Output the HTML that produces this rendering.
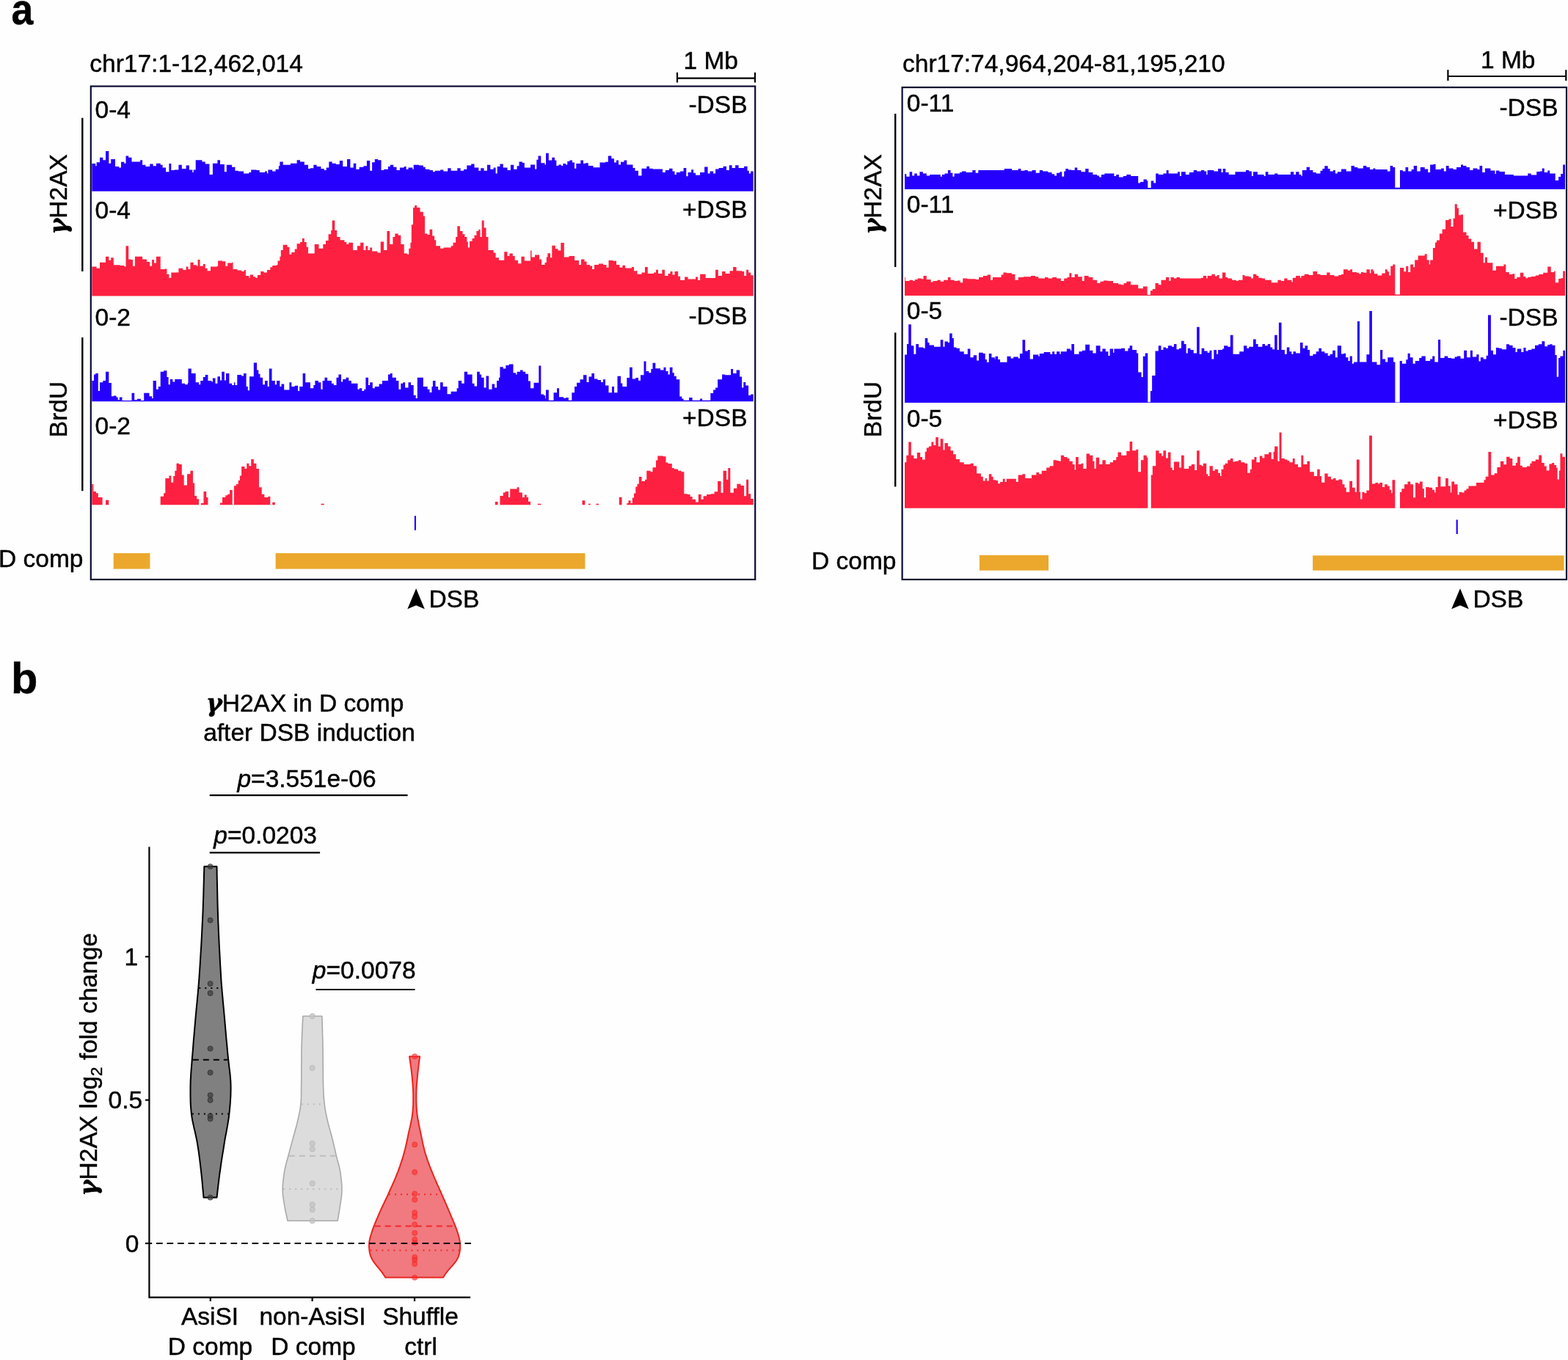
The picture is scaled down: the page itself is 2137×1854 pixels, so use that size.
<!DOCTYPE html><html><head><meta charset="utf-8"><style>html,body{margin:0;padding:0;background:#FEFEFE;}svg{display:block;}text{font-family:"Liberation Sans",Arial,Helvetica,sans-serif;fill:#000;stroke:#000;stroke-width:0.45px;}</style></head><body>
<svg width="2137" height="1854" viewBox="0 0 2137 1854">
<rect width="2137" height="1854" fill="#FEFEFE"/>
<text transform="translate(15.5 33) scale(0.9 1)" font-size="59.5" font-weight="bold">a</text>
<text x="15.0" y="945.0" font-size="59.5" text-anchor="start" font-weight="bold">b</text>
<path d="M125.3 260.8L125.3 223.1L128.7 223.1L128.7 223.1L130.2 223.1L130.2 226.3L131.6 226.3L131.6 221.2L136.0 221.2L136.0 214.7L140.3 214.7L140.3 218.3L144.0 218.3L144.0 206.0L148.3 206.0L148.3 222.7L151.2 222.7L151.2 216.9L155.6 216.9L155.6 216.9L157.0 216.9L157.0 227.0L162.1 227.0L162.1 228.5L165.0 228.5L165.0 220.8L169.4 220.8L169.4 222.7L171.5 222.7L171.5 212.5L175.2 212.5L175.2 214.7L179.5 214.7L179.5 220.5L191.1 220.5L191.1 218.3L194.1 218.3L194.1 224.8L198.4 224.8L198.4 227.0L204.2 227.0L204.2 223.4L208.6 223.4L208.6 226.3L212.9 226.3L212.9 222.7L218.7 222.7L218.7 224.8L221.6 224.8L221.6 228.5L226.0 228.5L226.0 234.3L230.4 234.3L230.4 223.1L233.3 223.1L233.3 232.1L237.6 232.1L237.6 231.4L243.4 231.4L243.4 224.8L247.8 224.8L247.8 229.9L253.6 229.9L253.6 225.6L257.9 225.6L257.9 231.4L262.3 231.4L262.3 235.0L263.7 235.0L263.7 231.4L266.7 231.4L266.7 218.3L275.4 218.3L275.4 220.5L279.7 220.5L279.7 223.4L285.5 223.4L285.5 237.9L289.9 237.9L289.9 222.7L296.4 222.7L296.4 218.3L300.0 218.3L300.0 224.1L305.9 224.1L305.9 234.3L308.8 234.3L308.8 224.8L316.0 224.8L316.0 227.8L320.4 227.8L320.4 232.8L324.7 232.8L324.7 233.6L332.0 233.6L332.0 236.5L339.3 236.5L339.3 235.0L342.2 235.0L342.2 231.4L349.4 231.4L349.4 232.1L353.8 232.1L353.8 235.0L361.0 235.0L361.0 233.6L363.9 233.6L363.9 236.5L365.4 236.5L365.4 231.4L371.2 231.4L371.2 233.6L375.6 233.6L375.6 230.7L379.9 230.7L379.9 226.3L381.4 226.3L381.4 220.5L385.7 220.5L385.7 224.8L395.9 224.8L395.9 222.7L404.6 222.7L404.6 218.3L409.0 218.3L409.0 220.5L414.8 220.5L414.8 224.8L420.0 224.8L420.0 229.9L422.9 229.9L422.9 229.2L427.3 229.2L427.3 224.8L431.6 224.8L431.6 227.0L437.4 227.0L437.4 229.9L441.8 229.9L441.8 232.1L444.7 232.1L444.7 228.5L448.3 228.5L448.3 220.5L452.7 220.5L452.7 222.7L457.8 222.7L457.8 224.1L462.8 224.1L462.8 219.0L467.2 219.0L467.2 227.0L473.0 227.0L473.0 216.9L477.4 216.9L477.4 228.5L481.7 228.5L481.7 222.7L485.3 222.7L485.3 230.7L489.7 230.7L489.7 227.8L495.5 227.8L495.5 226.3L499.9 226.3L499.9 219.0L504.2 219.0L504.2 232.8L507.1 232.8L507.1 221.2L510.8 221.2L510.8 216.9L515.1 216.9L515.1 218.3L519.5 218.3L519.5 232.1L523.1 232.1L523.1 230.7L528.9 230.7L528.9 227.0L531.8 227.0L531.8 224.8L536.2 224.8L536.2 227.8L540.5 227.8L540.5 232.1L544.9 232.1L544.9 228.5L550.7 228.5L550.7 227.0L553.6 227.0L553.6 230.7L556.5 230.7L556.5 228.5L562.3 228.5L562.3 230.7L563.7 230.7L563.7 224.8L571.0 224.8L571.0 225.6L576.8 225.6L576.8 227.8L579.7 227.8L579.7 230.7L585.5 230.7L585.5 232.1L589.9 232.1L589.9 234.3L592.8 234.3L592.8 232.8L600.0 232.8L600.0 231.4L604.4 231.4L604.4 233.6L610.2 233.6L610.2 229.2L614.6 229.2L614.6 232.8L623.3 232.8L623.3 229.2L627.6 229.2L627.6 232.8L632.0 232.8L632.0 230.7L636.3 230.7L636.3 225.6L642.2 225.6L642.2 223.4L646.5 223.4L646.5 228.5L652.3 228.5L652.3 232.8L655.2 232.8L655.2 229.2L659.6 229.2L659.6 232.8L663.9 232.8L663.9 224.8L668.3 224.8L668.3 230.7L672.6 230.7L672.6 228.5L675.6 228.5L675.6 236.5L677.7 236.5L677.7 227.0L681.4 227.0L681.4 223.4L685.7 223.4L685.7 228.5L691.5 228.5L691.5 232.1L695.9 232.1L695.9 224.8L700.2 224.8L700.2 230.7L704.6 230.7L704.6 226.3L707.5 226.3L707.5 220.5L711.9 220.5L711.9 221.9L714.8 221.9L714.8 228.5L723.0 228.5L723.0 224.5L729.0 224.5L729.0 230.5L731.3 230.5L731.3 217.8L733.5 217.8L733.5 212.5L737.3 212.5L737.3 222.3L742.5 222.3L742.5 224.5L744.0 224.5L744.0 208.8L747.8 208.8L747.8 218.5L752.3 218.5L752.3 214.8L756.0 214.8L756.0 218.5L758.3 218.5L758.3 226.0L761.3 226.0L761.3 224.5L765.0 224.5L765.0 226.0L767.3 226.0L767.3 223.0L771.0 223.0L771.0 224.5L773.3 224.5L773.3 220.0L776.3 220.0L776.3 218.5L780.0 218.5L780.0 221.5L783.0 221.5L783.0 229.8L785.3 229.8L785.3 223.0L791.3 223.0L791.3 218.5L795.0 218.5L795.0 223.0L798.0 223.0L798.0 222.3L801.8 222.3L801.8 226.0L808.5 226.0L808.5 228.3L816.0 228.3L816.0 228.3L817.5 228.3L817.5 221.5L825.0 221.5L825.0 220.8L828.8 220.8L828.8 212.5L833.3 212.5L833.3 216.3L837.0 216.3L837.0 221.5L840.0 221.5L840.0 218.5L843.0 218.5L843.0 224.5L846.0 224.5L846.0 220.8L850.5 220.8L850.5 218.5L854.3 218.5L854.3 224.5L862.5 224.5L862.5 229.0L865.5 229.0L865.5 232.8L870.0 232.8L870.0 239.5L874.5 239.5L874.5 229.8L881.3 229.8L881.3 226.8L885.0 226.8L885.0 229.8L889.5 229.8L889.5 230.5L895.5 230.5L895.5 230.5L903.0 230.5L903.0 235.0L906.8 235.0L906.8 232.0L912.0 232.0L912.0 229.8L916.5 229.8L916.5 233.5L919.5 233.5L919.5 238.0L921.8 238.0L921.8 235.0L927.1 235.0L927.1 233.5L931.6 233.5L931.6 229.0L935.3 229.0L935.3 240.3L937.6 240.3L937.6 235.0L942.1 235.0L942.1 231.3L945.1 231.3L945.1 235.8L948.1 235.8L948.1 238.8L954.1 238.8L954.1 235.0L960.1 235.0L960.1 227.5L964.6 227.5L964.6 236.5L967.6 236.5L967.6 233.5L972.1 233.5L972.1 236.5L975.1 236.5L975.1 230.5L979.6 230.5L979.6 229.0L985.6 229.0L985.6 226.8L990.1 226.8L990.1 232.0L993.8 232.0L993.8 225.3L997.6 225.3L997.6 229.0L1002.1 229.0L1002.1 225.3L1006.6 225.3L1006.6 229.0L1014.1 229.0L1014.1 226.8L1018.6 226.8L1018.6 232.8L1020.8 232.8L1020.8 236.5L1023.1 236.5L1023.1 233.5L1026.7 233.5L1026.7 260.8Z" fill="#2600FF"/><path d="M125.3 403.6L125.3 363.5L131.6 363.5L131.6 365.7L136.0 365.7L136.0 357.7L144.0 357.7L144.0 349.7L148.3 349.7L148.3 354.8L151.2 354.8L151.2 351.2L154.8 351.2L154.8 361.3L163.6 361.3L163.6 362.1L169.4 362.1L169.4 363.5L171.5 363.5L171.5 335.2L175.2 335.2L175.2 353.4L178.1 353.4L178.1 354.1L181.0 354.1L181.0 362.8L183.9 362.8L183.9 349.7L188.2 349.7L188.2 349.7L194.1 349.7L194.1 353.4L199.9 353.4L199.9 357.0L204.2 357.0L204.2 362.8L207.1 362.8L207.1 354.1L210.0 354.1L210.0 358.4L212.9 358.4L212.9 349.7L216.6 349.7L216.6 349.7L218.7 349.7L218.7 367.1L224.5 367.1L224.5 366.4L227.4 366.4L227.4 373.7L230.4 373.7L230.4 378.8L233.3 378.8L233.3 371.5L239.1 371.5L239.1 371.5L243.4 371.5L243.4 365.7L249.2 365.7L249.2 367.9L253.6 367.9L253.6 363.5L256.5 363.5L256.5 367.1L259.4 367.1L259.4 357.7L263.7 357.7L263.7 361.3L268.1 361.3L268.1 362.8L269.6 362.8L269.6 354.1L272.5 354.1L272.5 362.8L276.8 362.8L276.8 359.9L279.7 359.9L279.7 365.7L282.6 365.7L282.6 369.3L287.0 369.3L287.0 363.5L295.7 363.5L295.7 362.8L297.1 362.8L297.1 355.5L303.0 355.5L303.0 356.3L307.3 356.3L307.3 362.8L310.2 362.8L310.2 358.4L316.0 358.4L316.0 357.7L317.5 357.7L317.5 367.1L323.3 367.1L323.3 368.6L329.1 368.6L329.1 370.0L332.7 370.0L332.7 367.9L334.9 367.9L334.9 375.9L339.3 375.9L339.3 378.8L340.7 378.8L340.7 374.4L345.1 374.4L345.1 377.3L348.0 377.3L348.0 378.8L350.9 378.8L350.9 375.1L355.2 375.1L355.2 370.0L359.6 370.0L359.6 371.5L363.9 371.5L363.9 367.9L368.3 367.9L368.3 364.2L371.2 364.2L371.2 362.1L377.0 362.1L377.0 361.3L378.5 361.3L378.5 355.5L381.4 355.5L381.4 349.7L382.8 349.7L382.8 341.0L385.7 341.0L385.7 333.7L391.5 333.7L391.5 336.7L394.4 336.7L394.4 346.8L397.3 346.8L397.3 343.9L401.7 343.9L401.7 339.6L404.6 339.6L404.6 332.3L409.0 332.3L409.0 330.1L411.9 330.1L411.9 325.0L414.8 325.0L414.8 330.1L417.7 330.1L417.7 336.7L420.0 336.7L420.0 345.4L428.7 345.4L428.7 333.0L434.5 333.0L434.5 338.8L440.3 338.8L440.3 333.0L444.0 333.0L444.0 327.9L447.6 327.9L447.6 319.2L451.2 319.2L451.2 314.1L452.7 314.1L452.7 300.4L456.3 300.4L456.3 314.1L459.2 314.1L459.2 322.9L463.6 322.9L463.6 327.2L469.4 327.2L469.4 330.1L472.3 330.1L472.3 333.0L475.2 333.0L475.2 330.8L481.0 330.8L481.0 341.0L486.8 341.0L486.8 335.2L491.1 335.2L491.1 330.8L495.5 330.8L495.5 341.0L498.4 341.0L498.4 335.2L501.3 335.2L501.3 341.0L504.2 341.0L504.2 337.4L507.1 337.4L507.1 342.5L514.4 342.5L514.4 344.6L518.7 344.6L518.7 329.4L523.1 329.4L523.1 341.0L527.4 341.0L527.4 314.9L531.1 314.9L531.1 333.0L535.4 333.0L535.4 322.9L538.3 322.9L538.3 318.5L542.7 318.5L542.7 320.7L546.3 320.7L546.3 333.0L550.7 333.0L550.7 345.4L555.0 345.4L555.0 346.8L557.2 346.8L557.2 338.8L559.4 338.8L559.4 330.8L560.8 330.8L560.8 306.2L563.0 306.2L563.0 282.9L565.2 282.9L565.2 280.0L568.1 280.0L568.1 282.9L572.5 282.9L572.5 288.7L576.8 288.7L576.8 294.5L579.0 294.5L579.0 318.5L582.6 318.5L582.6 320.0L585.5 320.0L585.5 312.7L589.2 312.7L589.2 321.4L592.1 321.4L592.1 327.2L594.2 327.2L594.2 335.2L600.0 335.2L600.0 338.8L604.4 338.8L604.4 337.4L614.6 337.4L614.6 335.2L617.5 335.2L617.5 330.8L621.1 330.8L621.1 322.9L623.3 322.9L623.3 308.3L626.9 308.3L626.9 314.9L630.5 314.9L630.5 319.2L633.4 319.2L633.4 322.9L636.3 322.9L636.3 329.4L637.8 329.4L637.8 337.4L640.0 337.4L640.0 328.7L643.6 328.7L643.6 325.0L646.5 325.0L646.5 320.7L649.4 320.7L649.4 314.9L652.3 314.9L652.3 312.7L654.5 312.7L654.5 322.9L656.7 322.9L656.7 300.4L659.6 300.4L659.6 310.5L662.5 310.5L662.5 322.9L665.4 322.9L665.4 341.0L672.6 341.0L672.6 344.6L675.6 344.6L675.6 351.2L679.9 351.2L679.9 354.8L687.2 354.8L687.2 343.2L691.5 343.2L691.5 349.0L694.4 349.0L694.4 345.4L698.8 345.4L698.8 349.0L701.7 349.0L701.7 354.8L706.0 354.8L706.0 359.2L710.4 359.2L710.4 349.7L714.8 349.7L714.8 355.5L723.0 355.5L723.0 341.5L724.5 341.5L724.5 350.5L729.0 350.5L729.0 347.5L735.0 347.5L735.0 353.5L738.0 353.5L738.0 361.0L742.5 361.0L742.5 358.0L744.8 358.0L744.8 350.5L746.3 350.5L746.3 345.3L750.0 345.3L750.0 351.3L752.3 351.3L752.3 334.8L756.8 334.8L756.8 339.3L760.5 339.3L760.5 341.5L764.3 341.5L764.3 331.0L768.8 331.0L768.8 350.5L775.5 350.5L775.5 349.0L783.0 349.0L783.0 355.0L789.0 355.0L789.0 361.0L792.0 361.0L792.0 353.5L796.5 353.5L796.5 356.5L799.5 356.5L799.5 361.0L804.0 361.0L804.0 362.5L807.0 362.5L807.0 367.0L810.0 367.0L810.0 361.0L816.0 361.0L816.0 359.5L822.0 359.5L822.0 361.0L826.5 361.0L826.5 364.8L829.5 364.8L829.5 355.0L835.5 355.0L835.5 355.8L840.0 355.8L840.0 361.0L844.5 361.0L844.5 364.8L848.3 364.8L848.3 361.8L852.0 361.8L852.0 365.5L861.0 365.5L861.0 364.0L864.0 364.0L864.0 369.3L868.5 369.3L868.5 373.8L874.5 373.8L874.5 371.5L879.0 371.5L879.0 364.0L882.8 364.0L882.8 373.0L891.0 373.0L891.0 371.5L894.0 371.5L894.0 367.8L897.0 367.8L897.0 373.0L902.3 373.0L902.3 367.8L906.0 367.8L906.0 376.0L910.5 376.0L910.5 373.0L913.5 373.0L913.5 370.0L916.5 370.0L916.5 374.5L919.5 374.5L919.5 370.0L924.1 370.0L924.1 376.8L927.1 376.8L927.1 382.0L933.1 382.0L933.1 377.5L937.6 377.5L937.6 380.5L948.1 380.5L948.1 377.5L951.1 377.5L951.1 382.0L954.1 382.0L954.1 373.8L961.6 373.8L961.6 379.0L975.1 379.0L975.1 367.8L978.8 367.8L978.8 376.0L984.1 376.0L984.1 370.0L988.6 370.0L988.6 373.0L994.6 373.0L994.6 369.3L999.1 369.3L999.1 364.0L1003.6 364.0L1003.6 369.3L1011.1 369.3L1011.1 370.0L1014.1 370.0L1014.1 376.0L1017.1 376.0L1017.1 367.8L1020.1 367.8L1020.1 371.5L1023.1 371.5L1023.1 375.3L1026.7 375.3L1026.7 403.6Z" fill="#FE2040"/><path d="M125.3 547.3L125.3 519.1L128.0 519.1L128.0 510.4L130.2 510.4L130.2 509.0L133.8 509.0L133.8 532.9L136.0 532.9L136.0 521.3L140.3 521.3L140.3 519.1L144.0 519.1L144.0 506.8L148.3 506.8L148.3 522.0L151.9 522.0L151.9 540.2L154.8 540.2L154.8 539.5L158.5 539.5L158.5 541.6L160.7 541.6L160.7 545.3L162.8 545.3L162.8 541.6L166.5 541.6L166.5 546.0L179.5 546.0L179.5 535.8L183.2 535.8L183.2 545.3L186.8 545.3L186.8 543.8L191.9 543.8L191.9 546.0L196.2 546.0L196.2 535.8L203.5 535.8L203.5 540.2L207.1 540.2L207.1 543.1L208.6 543.1L208.6 519.1L212.9 519.1L212.9 530.8L215.8 530.8L215.8 527.1L218.7 527.1L218.7 506.8L223.1 506.8L223.1 505.3L227.4 505.3L227.4 514.1L229.6 514.1L229.6 524.2L231.8 524.2L231.8 517.0L235.4 517.0L235.4 520.6L238.3 520.6L238.3 517.0L247.8 517.0L247.8 522.8L252.1 522.8L252.1 524.2L255.8 524.2L255.8 522.0L256.5 522.0L256.5 502.4L260.8 502.4L260.8 509.0L266.7 509.0L266.7 521.3L271.0 521.3L271.0 524.2L273.2 524.2L273.2 519.1L276.8 519.1L276.8 514.1L279.7 514.1L279.7 511.1L283.4 511.1L283.4 519.1L288.4 519.1L288.4 520.6L289.9 520.6L289.9 515.5L293.5 515.5L293.5 522.8L296.4 522.8L296.4 513.3L300.0 513.3L300.0 518.4L302.2 518.4L302.2 506.8L305.9 506.8L305.9 518.4L308.0 518.4L308.0 509.0L312.4 509.0L312.4 522.8L316.0 522.8L316.0 524.9L318.9 524.9L318.9 521.3L320.4 521.3L320.4 524.9L323.3 524.9L323.3 511.1L329.1 511.1L329.1 512.6L332.0 512.6L332.0 509.0L335.6 509.0L335.6 527.1L337.8 527.1L337.8 532.2L340.0 532.2L340.0 513.3L344.3 513.3L344.3 513.3L345.8 513.3L345.8 494.5L350.1 494.5L350.1 504.6L352.3 504.6L352.3 509.7L354.5 509.7L354.5 514.8L358.1 514.8L358.1 524.2L361.0 524.2L361.0 519.1L364.7 519.1L364.7 527.1L366.8 527.1L366.8 502.4L370.5 502.4L370.5 519.1L374.8 519.1L374.8 524.2L377.0 524.2L377.0 519.1L381.4 519.1L381.4 527.1L383.5 527.1L383.5 523.5L387.2 523.5L387.2 531.5L394.4 531.5L394.4 521.3L397.3 521.3L397.3 527.1L401.7 527.1L401.7 525.7L406.0 525.7L406.0 532.9L408.2 532.9L408.2 527.1L412.6 527.1L412.6 509.0L416.2 509.0L416.2 521.3L420.0 521.3L420.0 521.3L422.9 521.3L422.9 529.3L427.3 529.3L427.3 524.9L429.4 524.9L429.4 519.1L433.8 519.1L433.8 521.3L437.4 521.3L437.4 530.8L439.6 530.8L439.6 519.1L442.5 519.1L442.5 514.8L446.1 514.8L446.1 519.1L451.9 519.1L451.9 522.8L454.8 522.8L454.8 524.9L458.5 524.9L458.5 514.8L461.4 514.8L461.4 510.4L465.0 510.4L465.0 520.6L467.2 520.6L467.2 517.0L471.5 517.0L471.5 514.8L475.2 514.8L475.2 519.1L478.8 519.1L478.8 522.8L487.5 522.8L487.5 530.8L489.7 530.8L489.7 529.3L493.3 529.3L493.3 532.9L496.2 532.9L496.2 530.8L498.4 530.8L498.4 514.8L502.0 514.8L502.0 524.9L504.2 524.9L504.2 521.3L507.8 521.3L507.8 529.3L510.8 529.3L510.8 527.1L516.6 527.1L516.6 523.5L520.9 523.5L520.9 519.1L528.9 519.1L528.9 510.4L531.8 510.4L531.8 509.0L534.7 509.0L534.7 514.8L539.8 514.8L539.8 519.1L543.4 519.1L543.4 530.8L546.3 530.8L546.3 522.8L549.2 522.8L549.2 521.3L552.1 521.3L552.1 528.6L556.5 528.6L556.5 521.3L560.1 521.3L560.1 524.9L563.7 524.9L563.7 538.7L566.7 538.7L566.7 543.1L568.8 543.1L568.8 514.8L576.8 514.8L576.8 527.1L582.6 527.1L582.6 530.8L585.5 530.8L585.5 535.1L588.4 535.1L588.4 527.1L589.9 527.1L589.9 519.1L593.5 519.1L593.5 527.1L597.1 527.1L597.1 531.5L600.0 531.5L600.0 521.3L603.7 521.3L603.7 527.1L609.5 527.1L609.5 537.3L614.6 537.3L614.6 533.7L622.6 533.7L622.6 529.3L624.7 529.3L624.7 519.1L629.1 519.1L629.1 522.8L632.7 522.8L632.7 506.8L637.1 506.8L637.1 510.4L643.6 510.4L643.6 522.8L646.5 522.8L646.5 526.4L650.1 526.4L650.1 506.8L653.8 506.8L653.8 510.4L656.0 510.4L656.0 514.8L659.6 514.8L659.6 528.6L662.5 528.6L662.5 512.6L666.1 512.6L666.1 530.8L670.5 530.8L670.5 523.5L674.1 523.5L674.1 528.6L677.0 528.6L677.0 519.1L679.9 519.1L679.9 514.8L681.4 514.8L681.4 500.3L685.7 500.3L685.7 502.4L689.3 502.4L689.3 498.1L693.7 498.1L693.7 496.6L699.5 496.6L699.5 508.2L703.1 508.2L703.1 510.4L704.6 510.4L704.6 506.8L709.0 506.8L709.0 504.6L712.6 504.6L712.6 506.8L716.2 506.8L716.2 509.7L720.0 509.7L720.0 519.5L723.0 519.5L723.0 529.3L727.5 529.3L727.5 521.8L734.3 521.8L734.3 498.5L737.3 498.5L737.3 537.5L741.0 537.5L741.0 539.0L743.3 539.0L743.3 543.5L744.0 543.5L744.0 531.5L747.8 531.5L747.8 545.8L754.5 545.8L754.5 535.3L759.0 535.3L759.0 529.3L762.0 529.3L762.0 541.3L768.0 541.3L768.0 542.8L771.0 542.8L771.0 542.0L774.8 542.0L774.8 545.8L779.3 545.8L779.3 535.3L783.0 535.3L783.0 527.0L786.0 527.0L786.0 521.8L790.5 521.8L790.5 517.3L795.0 517.3L795.0 511.3L799.5 511.3L799.5 521.0L802.5 521.0L802.5 513.5L806.3 513.5L806.3 509.0L810.0 509.0L810.0 516.5L814.5 516.5L814.5 518.0L819.0 518.0L819.0 521.0L822.0 521.0L822.0 517.3L825.0 517.3L825.0 525.5L829.5 525.5L829.5 535.3L834.0 535.3L834.0 527.0L837.0 527.0L837.0 535.3L841.5 535.3L841.5 512.8L846.0 512.8L846.0 522.5L848.3 522.5L848.3 527.0L854.3 527.0L854.3 515.0L858.0 515.0L858.0 500.8L861.8 500.8L861.8 516.5L866.3 516.5L866.3 515.0L870.0 515.0L870.0 518.8L873.0 518.8L873.0 511.3L877.5 511.3L877.5 492.5L880.5 492.5L880.5 506.0L884.3 506.0L884.3 508.3L887.3 508.3L887.3 503.0L889.5 503.0L889.5 494.8L893.3 494.8L893.3 502.3L900.0 502.3L900.0 504.5L904.5 504.5L904.5 500.8L907.5 500.8L907.5 506.0L910.5 506.0L910.5 510.5L912.8 510.5L912.8 500.8L916.5 500.8L916.5 508.3L918.8 508.3L918.8 512.8L921.8 512.8L921.8 517.3L926.3 517.3L926.3 540.5L929.3 540.5L929.3 543.5L931.6 543.5L931.6 545.8L939.1 545.8L939.1 542.0L943.6 542.0L943.6 545.8L954.1 545.8L954.1 543.5L957.1 543.5L957.1 545.8L968.3 545.8L968.3 536.0L972.1 536.0L972.1 531.5L975.1 531.5L975.1 528.5L978.1 528.5L978.1 517.3L984.1 517.3L984.1 510.5L987.8 510.5L987.8 511.3L996.1 511.3L996.1 503.0L999.1 503.0L999.1 509.0L1003.6 509.0L1003.6 504.5L1008.1 504.5L1008.1 513.5L1011.1 513.5L1011.1 528.5L1013.3 528.5L1013.3 521.0L1016.3 521.0L1016.3 525.5L1020.1 525.5L1020.1 539.0L1023.1 539.0L1023.1 537.5L1026.7 537.5L1026.7 547.3Z" fill="#2600FF"/><path d="M125.3 688.3L125.3 660.0L127.3 660.0L127.3 670.1L130.9 670.1L130.9 672.3L133.8 672.3L133.8 678.1L139.6 678.1L139.6 688.3ZM144.0 688.3L144.0 681.8L148.3 681.8L148.3 688.3ZM218.7 688.3L218.7 676.7L223.1 676.7L223.1 672.3L225.3 672.3L225.3 652.0L230.4 652.0L230.4 648.4L233.3 648.4L233.3 657.8L236.2 657.8L236.2 649.1L238.3 649.1L238.3 641.8L240.5 641.8L240.5 631.7L244.1 631.7L244.1 633.1L247.8 633.1L247.8 647.6L250.7 647.6L250.7 661.4L255.0 661.4L255.0 646.2L259.4 646.2L259.4 641.8L263.0 641.8L263.0 658.5L265.2 658.5L265.2 676.0L268.1 676.0L268.1 680.3L271.0 680.3L271.0 688.3ZM273.9 688.3L273.9 686.1L277.5 686.1L277.5 670.1L281.2 670.1L281.2 678.1L283.4 678.1L283.4 688.3ZM300.0 688.3L300.0 685.4L303.0 685.4L303.0 678.1L307.3 678.1L307.3 675.2L310.2 675.2L310.2 673.8L313.1 673.8L313.1 668.0L316.7 668.0L316.7 688.3ZM318.9 688.3L318.9 662.2L321.8 662.2L321.8 660.0L324.7 660.0L324.7 654.9L326.9 654.9L326.9 648.4L329.1 648.4L329.1 636.0L333.4 636.0L333.4 638.9L336.3 638.9L336.3 631.7L339.3 631.7L339.3 635.3L342.2 635.3L342.2 625.9L345.8 625.9L345.8 631.7L349.4 631.7L349.4 638.9L353.0 638.9L353.0 664.3L356.7 664.3L356.7 673.8L360.3 673.8L360.3 678.1L365.4 678.1L365.4 676.7L368.3 676.7L368.3 688.3ZM371.2 688.3L371.2 684.7L374.8 684.7L374.8 688.3ZM437.4 688.3L437.4 686.8L441.8 686.8L441.8 688.3ZM674.8 688.3L674.8 683.9L678.5 683.9L678.5 688.3ZM681.4 688.3L681.4 676.0L685.7 676.0L685.7 671.6L688.6 671.6L688.6 670.1L693.0 670.1L693.0 678.1L695.2 678.1L695.2 666.5L704.6 666.5L704.6 664.3L707.5 664.3L707.5 671.6L711.9 671.6L711.9 678.1L714.8 678.1L714.8 674.5L717.7 674.5L717.7 678.1L720.0 678.1L720.0 683.8L723.0 683.8L723.0 688.3ZM732.8 688.3L732.8 686.8L737.3 686.8L737.3 688.3ZM793.5 688.3L793.5 682.3L797.3 682.3L797.3 688.3ZM801.8 688.3L801.8 686.8L804.8 686.8L804.8 688.3ZM812.3 688.3L812.3 686.8L816.0 686.8L816.0 688.3ZM843.8 688.3L843.8 677.8L847.5 677.8L847.5 688.3ZM854.3 688.3L854.3 686.1L856.5 686.1L856.5 682.3L859.5 682.3L859.5 686.1L861.8 686.1L861.8 678.6L864.0 678.6L864.0 672.6L866.3 672.6L866.3 663.6L868.5 663.6L868.5 659.8L870.8 659.8L870.8 650.1L874.5 650.1L874.5 656.1L879.0 656.1L879.0 653.8L881.3 653.8L881.3 641.8L886.5 641.8L886.5 643.3L889.5 643.3L889.5 637.3L894.0 637.3L894.0 627.5L896.3 627.5L896.3 621.5L903.8 621.5L903.8 622.3L907.5 622.3L907.5 630.5L910.5 630.5L910.5 632.0L915.8 632.0L915.8 638.0L918.8 638.0L918.8 639.5L924.1 639.5L924.1 641.8L928.6 641.8L928.6 643.3L932.3 643.3L932.3 673.3L936.8 673.3L936.8 674.1L940.6 674.1L940.6 677.1L943.6 677.1L943.6 680.8L948.1 680.8L948.1 684.6L951.8 684.6L951.8 674.1L955.6 674.1L955.6 680.8L958.6 680.8L958.6 676.3L963.1 676.3L963.1 674.1L969.1 674.1L969.1 673.3L973.6 673.3L973.6 670.3L978.1 670.3L978.1 656.1L982.6 656.1L982.6 671.8L985.6 671.8L985.6 641.8L990.1 641.8L990.1 653.8L992.3 653.8L992.3 638.0L995.3 638.0L995.3 671.8L999.8 671.8L999.8 665.8L1004.3 665.8L1004.3 659.8L1009.6 659.8L1009.6 662.1L1014.1 662.1L1014.1 676.3L1017.1 676.3L1017.1 653.8L1020.1 653.8L1020.1 673.3L1023.1 673.3L1023.1 680.1L1026.7 680.1L1026.7 688.3Z" fill="#FE2040"/><rect x="123.8" y="117.6" width="905.4" height="672.4" fill="none" stroke="#0a0c30" stroke-width="2.2"/>
<path d="M1233.0 258.0L1233.0 237.2L1235.3 237.2L1235.3 240.8L1239.6 240.8L1239.6 234.3L1243.2 234.3L1243.2 239.4L1246.2 239.4L1246.2 236.5L1249.8 236.5L1249.8 239.4L1253.4 239.4L1253.4 234.3L1257.8 234.3L1257.8 236.5L1262.8 236.5L1262.8 239.4L1267.2 239.4L1267.2 237.9L1281.7 237.9L1281.7 240.8L1283.9 240.8L1283.9 237.9L1287.5 237.9L1287.5 236.5L1291.9 236.5L1291.9 232.1L1295.5 232.1L1295.5 235.7L1298.4 235.7L1298.4 240.8L1300.6 240.8L1300.6 236.5L1307.9 236.5L1307.9 235.0L1310.8 235.0L1310.8 233.6L1316.6 233.6L1316.6 235.0L1325.3 235.0L1325.3 232.1L1329.6 232.1L1329.6 235.7L1333.3 235.7L1333.3 232.1L1338.4 232.1L1338.4 232.1L1354.3 232.1L1354.3 232.1L1368.8 232.1L1368.8 229.9L1379.0 229.9L1379.0 232.1L1387.7 232.1L1387.7 229.9L1391.4 229.9L1391.4 232.8L1396.4 232.8L1396.4 232.1L1400.8 232.1L1400.8 233.6L1406.6 233.6L1406.6 232.1L1411.7 232.1L1411.7 235.7L1416.8 235.7L1416.8 232.1L1421.1 232.1L1421.1 233.6L1428.4 233.6L1428.4 235.0L1433.5 235.0L1433.5 237.2L1437.1 237.2L1437.1 239.4L1440.0 239.4L1440.0 235.7L1444.3 235.7L1444.3 234.3L1447.3 234.3L1447.3 240.8L1450.2 240.8L1450.2 233.6L1452.3 233.6L1452.3 229.9L1456.0 229.9L1456.0 231.4L1460.3 231.4L1460.3 232.1L1464.7 232.1L1464.7 228.5L1468.3 228.5L1468.3 232.1L1473.4 232.1L1473.4 234.3L1479.2 234.3L1479.2 229.9L1483.6 229.9L1483.6 235.0L1489.4 235.0L1489.4 237.9L1495.2 237.9L1495.2 239.4L1498.1 239.4L1498.1 241.5L1501.0 241.5L1501.0 237.9L1505.3 237.9L1505.3 236.5L1510.4 236.5L1510.4 236.5L1518.4 236.5L1518.4 240.1L1521.3 240.1L1521.3 237.9L1524.9 237.9L1524.9 241.5L1528.0 241.5L1528.0 241.5L1530.9 241.5L1530.9 240.1L1535.3 240.1L1535.3 237.9L1541.1 237.9L1541.1 240.1L1551.2 240.1L1551.2 249.5L1554.1 249.5L1554.1 248.1L1558.5 248.1L1558.5 244.5L1562.8 244.5L1562.8 246.6L1564.3 246.6L1564.3 256.1L1568.7 256.1L1568.7 246.6L1572.3 246.6L1572.3 249.5L1575.2 249.5L1575.2 236.5L1578.8 236.5L1578.8 237.9L1585.4 237.9L1585.4 236.5L1589.7 236.5L1589.7 232.1L1592.6 232.1L1592.6 236.5L1605.0 236.5L1605.0 234.3L1607.9 234.3L1607.9 240.1L1610.0 240.1L1610.0 234.3L1615.8 234.3L1615.8 237.9L1620.9 237.9L1620.9 235.0L1626.7 235.0L1626.7 232.1L1631.1 232.1L1631.1 233.6L1636.9 233.6L1636.9 232.1L1641.3 232.1L1641.3 233.6L1644.2 233.6L1644.2 237.9L1645.6 237.9L1645.6 232.1L1654.3 232.1L1654.3 233.6L1660.1 233.6L1660.1 229.9L1664.5 229.9L1664.5 235.0L1666.7 235.0L1666.7 229.9L1670.3 229.9L1670.3 235.0L1674.7 235.0L1674.7 237.9L1683.4 237.9L1683.4 234.3L1697.9 234.3L1697.9 232.1L1702.2 232.1L1702.2 233.6L1705.9 233.6L1705.9 240.1L1708.0 240.1L1708.0 234.3L1713.9 234.3L1713.9 237.9L1722.6 237.9L1722.6 240.1L1724.7 240.1L1724.7 234.3L1728.4 234.3L1728.4 237.9L1737.1 237.9L1737.1 236.5L1741.4 236.5L1741.4 237.9L1758.9 237.9L1758.9 234.3L1763.2 234.3L1763.2 237.9L1766.1 237.9L1766.1 234.3L1770.5 234.3L1770.5 237.9L1773.4 237.9L1773.4 240.1L1774.8 240.1L1774.8 232.1L1780.6 232.1L1780.6 227.8L1785.0 227.8L1785.0 232.1L1789.4 232.1L1789.4 235.0L1793.7 235.0L1793.7 236.5L1799.5 236.5L1799.5 232.8L1802.4 232.8L1802.4 229.9L1805.3 229.9L1805.3 226.3L1809.7 226.3L1809.7 229.9L1812.6 229.9L1812.6 233.6L1817.0 233.6L1817.0 232.1L1819.9 232.1L1819.9 236.5L1822.8 236.5L1822.8 234.3L1828.0 234.3L1828.0 230.4L1834.7 230.4L1834.7 233.4L1841.5 233.4L1841.5 225.9L1845.9 225.9L1845.9 228.1L1850.4 228.1L1850.4 229.6L1857.9 229.6L1857.9 225.9L1862.4 225.9L1862.4 228.1L1866.9 228.1L1866.9 231.1L1871.4 231.1L1871.4 229.6L1874.4 229.6L1874.4 231.1L1890.8 231.1L1890.8 233.4L1894.6 233.4L1894.6 225.9L1898.3 225.9L1898.3 228.1L1901.3 228.1L1901.3 255.8L1908.0 255.8L1908.0 231.9L1911.8 231.9L1911.8 233.4L1915.5 233.4L1915.5 228.1L1919.2 228.1L1919.2 233.4L1923.7 233.4L1923.7 231.1L1926.7 231.1L1926.7 225.9L1931.2 225.9L1931.2 233.4L1935.7 233.4L1935.7 228.1L1941.7 228.1L1941.7 230.4L1946.2 230.4L1946.2 234.9L1949.1 234.9L1949.1 224.4L1953.6 224.4L1953.6 223.7L1956.6 223.7L1956.6 231.1L1964.1 231.1L1964.1 229.6L1967.8 229.6L1967.8 233.4L1970.8 233.4L1970.8 225.9L1974.6 225.9L1974.6 229.6L1980.6 229.6L1980.6 231.1L1985.0 231.1L1985.0 228.1L1991.0 228.1L1991.0 224.4L1994.0 224.4L1994.0 225.9L1998.5 225.9L1998.5 228.1L2003.0 228.1L2003.0 231.9L2007.5 231.9L2007.5 229.6L2013.5 229.6L2013.5 231.1L2016.5 231.1L2016.5 225.9L2020.2 225.9L2020.2 234.9L2023.9 234.9L2023.9 229.6L2031.4 229.6L2031.4 232.6L2037.4 232.6L2037.4 237.1L2038.9 237.1L2038.9 232.6L2043.4 232.6L2043.4 234.1L2050.9 234.1L2050.9 237.9L2062.8 237.9L2062.8 239.4L2082.3 239.4L2082.3 236.4L2086.7 236.4L2086.7 238.6L2094.2 238.6L2094.2 234.1L2098.7 234.1L2098.7 233.4L2101.7 233.4L2101.7 229.6L2104.7 229.6L2104.7 234.9L2109.2 234.9L2109.2 232.6L2112.2 232.6L2112.2 236.4L2119.7 236.4L2119.7 246.1L2124.1 246.1L2124.1 240.9L2127.1 240.9L2127.1 237.1L2130.1 237.1L2130.1 224.4L2133.0 224.4L2133.0 258.0Z" fill="#2600FF"/><path d="M1233.0 403.0L1233.0 378.0L1233.8 378.0L1233.8 383.1L1239.6 383.1L1239.6 381.7L1244.0 381.7L1244.0 383.1L1246.9 383.1L1246.9 380.9L1250.5 380.9L1250.5 379.5L1255.6 379.5L1255.6 380.2L1258.5 380.2L1258.5 375.9L1262.8 375.9L1262.8 380.9L1268.7 380.9L1268.7 384.6L1271.6 384.6L1271.6 383.1L1277.4 383.1L1277.4 381.7L1281.7 381.7L1281.7 383.8L1286.1 383.8L1286.1 381.7L1291.9 381.7L1291.9 378.0L1295.5 378.0L1295.5 381.7L1300.6 381.7L1300.6 383.1L1305.0 383.1L1305.0 382.4L1308.6 382.4L1308.6 385.3L1312.2 385.3L1312.2 379.5L1318.0 379.5L1318.0 380.2L1329.6 380.2L1329.6 380.9L1334.0 380.9L1334.0 378.0L1339.8 378.0L1339.8 375.9L1345.6 375.9L1345.6 374.4L1350.0 374.4L1350.0 381.7L1352.9 381.7L1352.9 378.0L1364.5 378.0L1364.5 374.4L1367.4 374.4L1367.4 371.5L1371.7 371.5L1371.7 372.2L1379.0 372.2L1379.0 373.7L1383.4 373.7L1383.4 381.7L1387.7 381.7L1387.7 378.0L1395.0 378.0L1395.0 377.3L1405.1 377.3L1405.1 375.9L1411.0 375.9L1411.0 377.3L1415.3 377.3L1415.3 379.5L1424.0 379.5L1424.0 378.0L1428.4 378.0L1428.4 379.5L1434.2 379.5L1434.2 378.0L1440.0 378.0L1440.0 379.5L1445.8 379.5L1445.8 383.1L1450.2 383.1L1450.2 379.5L1454.5 379.5L1454.5 378.0L1457.4 378.0L1457.4 372.2L1460.3 372.2L1460.3 378.0L1464.7 378.0L1464.7 373.7L1469.0 373.7L1469.0 377.3L1474.8 377.3L1474.8 383.1L1477.7 383.1L1477.7 375.9L1483.6 375.9L1483.6 378.0L1489.4 378.0L1489.4 381.7L1495.2 381.7L1495.2 386.0L1499.5 386.0L1499.5 383.8L1503.9 383.8L1503.9 382.4L1509.7 382.4L1509.7 383.1L1517.0 383.1L1517.0 386.0L1524.2 386.0L1524.2 387.5L1528.0 387.5L1528.0 388.2L1531.6 388.2L1531.6 386.0L1535.3 386.0L1535.3 383.8L1541.1 383.8L1541.1 388.2L1551.2 388.2L1551.2 393.3L1557.8 393.3L1557.8 390.4L1563.6 390.4L1563.6 402.0L1567.9 402.0L1567.9 396.2L1570.8 396.2L1570.8 394.0L1574.5 394.0L1574.5 386.0L1578.8 386.0L1578.8 388.2L1582.5 388.2L1582.5 381.7L1589.0 381.7L1589.0 378.0L1593.3 378.0L1593.3 383.1L1595.5 383.1L1595.5 378.0L1599.9 378.0L1599.9 379.5L1603.5 379.5L1603.5 378.0L1607.9 378.0L1607.9 379.5L1636.9 379.5L1636.9 378.8L1639.8 378.8L1639.8 375.9L1644.2 375.9L1644.2 379.5L1645.6 379.5L1645.6 375.9L1651.4 375.9L1651.4 373.7L1655.8 373.7L1655.8 376.6L1658.7 376.6L1658.7 375.1L1661.6 375.1L1661.6 379.5L1665.9 379.5L1665.9 371.5L1670.3 371.5L1670.3 378.0L1673.2 378.0L1673.2 379.5L1679.0 379.5L1679.0 381.7L1684.8 381.7L1684.8 383.1L1687.7 383.1L1687.7 381.7L1693.5 381.7L1693.5 375.1L1696.4 375.1L1696.4 376.6L1702.2 376.6L1702.2 377.3L1705.1 377.3L1705.1 379.5L1708.0 379.5L1708.0 373.7L1712.4 373.7L1712.4 375.9L1715.3 375.9L1715.3 378.8L1719.7 378.8L1719.7 379.5L1724.0 379.5L1724.0 381.7L1732.7 381.7L1732.7 385.3L1741.4 385.3L1741.4 381.7L1745.8 381.7L1745.8 383.1L1750.2 383.1L1750.2 379.5L1754.5 379.5L1754.5 381.7L1760.3 381.7L1760.3 384.6L1761.8 384.6L1761.8 378.8L1766.1 378.8L1766.1 375.9L1771.9 375.9L1771.9 378.8L1773.4 378.8L1773.4 375.9L1777.7 375.9L1777.7 373.7L1783.6 373.7L1783.6 375.1L1789.4 375.1L1789.4 370.0L1795.2 370.0L1795.2 373.7L1799.5 373.7L1799.5 375.1L1808.2 375.1L1808.2 371.5L1812.6 371.5L1812.6 375.1L1818.4 375.1L1818.4 376.6L1824.2 376.6L1824.2 375.1L1828.0 375.1L1828.0 374.0L1831.0 374.0L1831.0 367.2L1837.0 367.2L1837.0 368.7L1840.0 368.7L1840.0 367.2L1843.0 367.2L1843.0 371.0L1848.9 371.0L1848.9 371.7L1851.9 371.7L1851.9 373.2L1854.9 373.2L1854.9 371.0L1857.9 371.0L1857.9 371.7L1862.4 371.7L1862.4 367.2L1866.9 367.2L1866.9 372.5L1868.4 372.5L1868.4 367.2L1871.4 367.2L1871.4 369.5L1872.9 369.5L1872.9 373.2L1877.4 373.2L1877.4 375.5L1883.3 375.5L1883.3 372.5L1887.8 372.5L1887.8 367.2L1890.8 367.2L1890.8 370.2L1893.1 370.2L1893.1 375.5L1895.3 375.5L1895.3 362.7L1898.3 362.7L1898.3 360.5L1901.3 360.5L1901.3 401.6L1908.0 401.6L1908.0 365.0L1913.3 365.0L1913.3 370.2L1916.2 370.2L1916.2 362.7L1919.2 362.7L1919.2 371.0L1922.2 371.0L1922.2 360.5L1926.0 360.5L1926.0 364.2L1928.2 364.2L1928.2 354.5L1932.7 354.5L1932.7 348.5L1941.7 348.5L1941.7 346.3L1944.7 346.3L1944.7 354.5L1947.7 354.5L1947.7 360.5L1949.1 360.5L1949.1 354.5L1952.9 354.5L1952.9 338.1L1955.9 338.1L1955.9 330.6L1958.1 330.6L1958.1 327.6L1961.9 327.6L1961.9 318.6L1965.6 318.6L1965.6 312.6L1970.1 312.6L1970.1 299.9L1974.6 299.9L1974.6 298.4L1977.6 298.4L1977.6 308.9L1980.6 308.9L1980.6 297.7L1982.8 297.7L1982.8 278.2L1985.8 278.2L1985.8 283.5L1988.0 283.5L1988.0 293.2L1991.0 293.2L1991.0 292.5L1994.0 292.5L1994.0 316.4L1998.5 316.4L1998.5 320.9L2001.5 320.9L2001.5 325.4L2005.2 325.4L2005.2 329.8L2009.0 329.8L2009.0 339.6L2013.5 339.6L2013.5 329.8L2017.9 329.8L2017.9 344.8L2021.7 344.8L2021.7 358.3L2023.9 358.3L2023.9 350.8L2026.9 350.8L2026.9 358.3L2034.4 358.3L2034.4 368.7L2038.9 368.7L2038.9 362.7L2049.4 362.7L2049.4 360.5L2052.3 360.5L2052.3 371.0L2056.8 371.0L2056.8 374.0L2061.3 374.0L2061.3 373.2L2064.3 373.2L2064.3 379.9L2067.3 379.9L2067.3 377.7L2071.8 377.7L2071.8 371.7L2076.3 371.7L2076.3 377.0L2079.3 377.0L2079.3 379.2L2082.3 379.2L2082.3 377.7L2086.7 377.7L2086.7 377.0L2092.7 377.0L2092.7 375.5L2097.2 375.5L2097.2 374.0L2103.2 374.0L2103.2 371.7L2109.2 371.7L2109.2 363.5L2113.7 363.5L2113.7 371.0L2118.2 371.0L2118.2 369.5L2119.7 369.5L2119.7 385.2L2124.1 385.2L2124.1 379.9L2127.1 379.9L2127.1 379.2L2130.1 379.2L2130.1 369.5L2133.0 369.5L2133.0 403.0Z" fill="#FE2040"/><path d="M1233.0 549.1L1233.0 483.6L1236.0 483.6L1236.0 469.0L1238.2 469.0L1238.2 442.2L1241.8 442.2L1241.8 471.2L1245.4 471.2L1245.4 482.8L1248.3 482.8L1248.3 469.0L1252.0 469.0L1252.0 473.4L1258.5 473.4L1258.5 474.8L1260.7 474.8L1260.7 461.1L1264.3 461.1L1264.3 466.9L1266.5 466.9L1266.5 470.5L1273.0 470.5L1273.0 472.7L1281.7 472.7L1281.7 463.2L1285.4 463.2L1285.4 472.7L1287.5 472.7L1287.5 465.4L1291.9 465.4L1291.9 466.9L1294.1 466.9L1294.1 454.5L1297.7 454.5L1297.7 461.1L1299.9 461.1L1299.9 473.4L1303.5 473.4L1303.5 474.8L1307.9 474.8L1307.9 479.2L1313.7 479.2L1313.7 482.8L1318.8 482.8L1318.8 475.6L1322.4 475.6L1322.4 487.2L1326.7 487.2L1326.7 484.3L1331.1 484.3L1331.1 491.5L1334.0 491.5L1334.0 480.7L1339.8 480.7L1339.8 482.1L1342.7 482.1L1342.7 490.1L1344.9 490.1L1344.9 493.7L1347.8 493.7L1347.8 482.1L1351.4 482.1L1351.4 487.2L1355.8 487.2L1355.8 489.4L1356.5 489.4L1356.5 485.7L1360.1 485.7L1360.1 490.1L1363.0 490.1L1363.0 493.7L1372.5 493.7L1372.5 485.7L1377.6 485.7L1377.6 488.6L1381.2 488.6L1381.2 486.5L1384.8 486.5L1384.8 486.5L1387.7 486.5L1387.7 488.6L1389.9 488.6L1389.9 482.1L1393.5 482.1L1393.5 463.2L1397.2 463.2L1397.2 478.5L1400.8 478.5L1400.8 477.0L1403.7 477.0L1403.7 489.4L1408.0 489.4L1408.0 483.6L1415.3 483.6L1415.3 485.7L1416.8 485.7L1416.8 482.1L1422.6 482.1L1422.6 479.9L1431.3 479.9L1431.3 482.8L1434.2 482.8L1434.2 479.2L1437.1 479.2L1437.1 482.8L1440.0 482.8L1440.0 479.2L1444.3 479.2L1444.3 482.8L1445.8 482.8L1445.8 479.2L1453.8 479.2L1453.8 475.6L1458.9 475.6L1458.9 477.8L1460.3 477.8L1460.3 469.0L1464.0 469.0L1464.0 482.8L1470.5 482.8L1470.5 479.2L1474.8 479.2L1474.8 477.8L1479.2 477.8L1479.2 469.8L1485.0 469.8L1485.0 477.8L1489.4 477.8L1489.4 481.4L1493.7 481.4L1493.7 471.2L1499.5 471.2L1499.5 479.2L1502.4 479.2L1502.4 475.6L1506.8 475.6L1506.8 479.2L1510.4 479.2L1510.4 485.0L1512.6 485.0L1512.6 475.6L1517.0 475.6L1517.0 480.7L1518.4 480.7L1518.4 475.6L1528.0 475.6L1528.0 474.8L1533.1 474.8L1533.1 478.5L1537.4 478.5L1537.4 474.8L1539.6 474.8L1539.6 471.2L1543.2 471.2L1543.2 477.0L1549.1 477.0L1549.1 481.4L1551.2 481.4L1551.2 507.5L1555.6 507.5L1555.6 514.1L1557.8 514.1L1557.8 485.7L1560.7 485.7L1560.7 481.4L1564.3 481.4L1564.3 548.2L1567.9 548.2L1567.9 532.9L1570.1 532.9L1570.1 511.9L1574.5 511.9L1574.5 478.5L1578.8 478.5L1578.8 471.2L1582.5 471.2L1582.5 477.0L1585.4 477.0L1585.4 473.4L1589.0 473.4L1589.0 474.8L1591.9 474.8L1591.9 471.2L1597.0 471.2L1597.0 472.7L1599.9 472.7L1599.9 469.0L1603.5 469.0L1603.5 476.3L1607.1 476.3L1607.1 474.8L1610.0 474.8L1610.0 464.7L1613.7 464.7L1613.7 469.0L1616.6 469.0L1616.6 481.4L1618.8 481.4L1618.8 474.8L1622.4 474.8L1622.4 477.0L1626.7 477.0L1626.7 481.4L1631.1 481.4L1631.1 445.8L1634.7 445.8L1634.7 482.8L1637.6 482.8L1637.6 474.8L1641.3 474.8L1641.3 478.5L1645.6 478.5L1645.6 480.7L1648.5 480.7L1648.5 477.8L1651.4 477.8L1651.4 489.4L1654.3 489.4L1654.3 477.0L1658.0 477.0L1658.0 482.8L1660.1 482.8L1660.1 477.0L1665.9 477.0L1665.9 475.6L1668.1 475.6L1668.1 471.2L1673.2 471.2L1673.2 472.7L1676.8 472.7L1676.8 456.7L1680.5 456.7L1680.5 482.8L1689.2 482.8L1689.2 479.2L1695.0 479.2L1695.0 471.2L1699.3 471.2L1699.3 474.8L1702.2 474.8L1702.2 472.7L1708.0 472.7L1708.0 462.5L1711.7 462.5L1711.7 469.0L1714.6 469.0L1714.6 472.7L1720.4 472.7L1720.4 469.0L1724.0 469.0L1724.0 471.2L1727.7 471.2L1727.7 469.0L1731.3 469.0L1731.3 473.4L1734.2 473.4L1734.2 476.3L1737.1 476.3L1737.1 456.7L1740.7 456.7L1740.7 477.0L1742.9 477.0L1742.9 439.7L1746.5 439.7L1746.5 477.0L1750.9 477.0L1750.9 482.8L1753.8 482.8L1753.8 473.4L1757.4 473.4L1757.4 479.2L1760.3 479.2L1760.3 482.8L1762.5 482.8L1762.5 479.2L1766.1 479.2L1766.1 481.4L1771.9 481.4L1771.9 466.9L1775.6 466.9L1775.6 474.8L1778.5 474.8L1778.5 471.2L1782.1 471.2L1782.1 477.0L1785.0 477.0L1785.0 485.0L1789.4 485.0L1789.4 482.8L1793.7 482.8L1793.7 479.2L1797.3 479.2L1797.3 474.8L1801.0 474.8L1801.0 479.2L1805.3 479.2L1805.3 481.4L1809.7 481.4L1809.7 485.0L1812.6 485.0L1812.6 482.8L1816.2 482.8L1816.2 477.8L1819.9 477.8L1819.9 487.2L1822.8 487.2L1822.8 471.2L1828.0 471.2L1828.0 482.5L1831.1 482.5L1831.1 481.7L1834.2 481.7L1834.2 487.2L1837.4 487.2L1837.4 491.9L1839.7 491.9L1839.7 485.6L1842.8 485.6L1842.8 495.8L1845.2 495.8L1845.2 493.4L1849.9 493.4L1849.9 438.0L1853.0 438.0L1853.0 493.4L1862.4 493.4L1862.4 483.3L1866.3 483.3L1866.3 423.9L1869.9 423.9L1869.9 493.4L1876.4 493.4L1876.4 497.3L1881.1 497.3L1881.1 477.0L1884.2 477.0L1884.2 489.5L1888.1 489.5L1888.1 493.4L1891.3 493.4L1891.3 487.2L1899.1 487.2L1899.1 493.4L1901.4 493.4L1901.4 548.4L1907.7 548.4L1907.7 491.9L1910.8 491.9L1910.8 495.8L1916.3 495.8L1916.3 490.3L1918.6 490.3L1918.6 481.7L1921.7 481.7L1921.7 487.2L1925.6 487.2L1925.6 495.8L1928.8 495.8L1928.8 491.9L1934.2 491.9L1934.2 488.0L1937.4 488.0L1937.4 485.6L1942.8 485.6L1942.8 491.9L1949.1 491.9L1949.1 489.5L1952.2 489.5L1952.2 485.6L1955.3 485.6L1955.3 493.4L1960.0 493.4L1960.0 463.0L1963.1 463.0L1963.1 488.0L1968.6 488.0L1968.6 485.6L1973.3 485.6L1973.3 488.0L1978.0 488.0L1978.0 488.7L1982.7 488.7L1982.7 486.4L1985.8 486.4L1985.8 485.6L1990.5 485.6L1990.5 488.7L1995.2 488.7L1995.2 477.8L1999.1 477.8L1999.1 487.2L2003.8 487.2L2003.8 477.8L2006.9 477.8L2006.9 486.4L2012.3 486.4L2012.3 483.3L2015.5 483.3L2015.5 492.6L2017.8 492.6L2017.8 487.2L2021.7 487.2L2021.7 489.5L2025.6 489.5L2025.6 484.8L2028.0 484.8L2028.0 429.4L2031.9 429.4L2031.9 477.8L2035.0 477.8L2035.0 483.3L2038.9 483.3L2038.9 473.9L2042.8 473.9L2042.8 474.7L2046.7 474.7L2046.7 476.2L2053.0 476.2L2053.0 469.2L2056.9 469.2L2056.9 470.8L2061.6 470.8L2061.6 473.9L2065.5 473.9L2065.5 480.1L2067.8 480.1L2067.8 475.5L2073.3 475.5L2073.3 480.1L2076.4 480.1L2076.4 473.9L2079.5 473.9L2079.5 478.6L2082.6 478.6L2082.6 477.0L2087.3 477.0L2087.3 475.5L2092.0 475.5L2092.0 470.8L2096.7 470.8L2096.7 469.2L2101.4 469.2L2101.4 465.3L2105.3 465.3L2105.3 472.3L2109.2 472.3L2109.2 470.0L2112.3 470.0L2112.3 469.2L2115.5 469.2L2115.5 470.8L2119.4 470.8L2119.4 484.1L2121.7 484.1L2121.7 513.7L2124.0 513.7L2124.0 488.0L2126.4 488.0L2126.4 485.6L2130.3 485.6L2130.3 477.8L2133.0 477.8L2133.0 549.1Z" fill="#2600FF"/><path d="M1233.0 692.7L1233.0 630.2L1235.3 630.2L1235.3 620.8L1238.2 620.8L1238.2 602.6L1241.8 602.6L1241.8 620.8L1245.4 620.8L1245.4 625.1L1249.8 625.1L1249.8 617.1L1254.1 617.1L1254.1 623.0L1257.0 623.0L1257.0 626.6L1260.7 626.6L1260.7 615.7L1262.8 615.7L1262.8 610.6L1265.8 610.6L1265.8 608.4L1269.4 608.4L1269.4 602.6L1272.3 602.6L1272.3 607.0L1275.2 607.0L1275.2 596.1L1278.8 596.1L1278.8 608.4L1281.7 608.4L1281.7 598.3L1285.4 598.3L1285.4 613.5L1287.5 613.5L1287.5 604.1L1291.9 604.1L1291.9 608.4L1295.5 608.4L1295.5 614.2L1299.1 614.2L1299.1 619.3L1302.8 619.3L1302.8 625.9L1307.9 625.9L1307.9 630.2L1313.7 630.2L1313.7 633.1L1322.4 633.1L1322.4 631.7L1326.7 631.7L1326.7 635.3L1331.1 635.3L1331.1 645.5L1336.9 645.5L1336.9 649.8L1339.8 649.8L1339.8 655.6L1342.7 655.6L1342.7 652.0L1344.9 652.0L1344.9 655.6L1347.8 655.6L1347.8 646.2L1351.4 646.2L1351.4 649.8L1353.6 649.8L1353.6 654.2L1357.2 654.2L1357.2 654.9L1360.1 654.9L1360.1 659.3L1363.0 659.3L1363.0 657.1L1366.7 657.1L1366.7 652.7L1369.6 652.7L1369.6 657.1L1371.7 657.1L1371.7 652.7L1384.8 652.7L1384.8 657.1L1387.7 657.1L1387.7 647.6L1393.5 647.6L1393.5 646.2L1397.2 646.2L1397.2 652.0L1405.9 652.0L1405.9 647.6L1412.4 647.6L1412.4 644.0L1416.0 644.0L1416.0 646.2L1419.7 646.2L1419.7 641.8L1426.2 641.8L1426.2 637.5L1430.6 637.5L1430.6 635.3L1435.6 635.3L1435.6 627.3L1440.0 627.3L1440.0 628.0L1442.9 628.0L1442.9 628.8L1445.8 628.8L1445.8 620.8L1450.2 620.8L1450.2 623.0L1454.5 623.0L1454.5 625.1L1457.4 625.1L1457.4 628.8L1461.8 628.8L1461.8 633.1L1464.7 633.1L1464.7 640.4L1466.1 640.4L1466.1 623.0L1469.8 623.0L1469.8 633.1L1473.4 633.1L1473.4 631.7L1476.3 631.7L1476.3 638.9L1480.6 638.9L1480.6 618.6L1485.0 618.6L1485.0 620.8L1489.4 620.8L1489.4 628.8L1491.5 628.8L1491.5 638.9L1493.7 638.9L1493.7 623.7L1498.1 623.7L1498.1 633.1L1502.4 633.1L1502.4 627.3L1506.8 627.3L1506.8 633.1L1512.6 633.1L1512.6 630.2L1517.0 630.2L1517.0 627.3L1521.3 627.3L1521.3 623.0L1523.5 623.0L1523.5 616.4L1528.0 616.4L1528.0 620.8L1535.3 620.8L1535.3 615.0L1539.6 615.0L1539.6 601.9L1543.2 601.9L1543.2 614.2L1548.3 614.2L1548.3 612.8L1551.2 612.8L1551.2 643.3L1554.9 643.3L1554.9 627.3L1558.5 627.3L1558.5 620.8L1562.8 620.8L1562.8 623.7L1564.3 623.7L1564.3 692.7ZM1568.7 692.7L1568.7 647.6L1570.8 647.6L1570.8 635.3L1575.2 635.3L1575.2 614.2L1579.5 614.2L1579.5 617.9L1583.2 617.9L1583.2 621.5L1585.4 621.5L1585.4 614.2L1589.0 614.2L1589.0 624.4L1591.9 624.4L1591.9 616.4L1595.5 616.4L1595.5 637.5L1597.7 637.5L1597.7 641.1L1599.9 641.1L1599.9 629.5L1607.1 629.5L1607.1 637.5L1610.0 637.5L1610.0 620.8L1613.7 620.8L1613.7 638.9L1620.2 638.9L1620.2 635.3L1623.8 635.3L1623.8 633.1L1628.2 633.1L1628.2 641.1L1631.1 641.1L1631.1 614.2L1634.7 614.2L1634.7 633.8L1637.6 633.8L1637.6 635.3L1639.8 635.3L1639.8 631.7L1644.2 631.7L1644.2 646.2L1646.3 646.2L1646.3 649.1L1648.5 649.1L1648.5 635.3L1652.9 635.3L1652.9 641.8L1655.8 641.8L1655.8 639.7L1660.1 639.7L1660.1 644.7L1663.0 644.7L1663.0 649.1L1664.5 649.1L1664.5 639.7L1667.4 639.7L1667.4 633.8L1669.6 633.8L1669.6 631.7L1673.2 631.7L1673.2 627.3L1676.8 627.3L1676.8 625.1L1680.5 625.1L1680.5 629.5L1683.4 629.5L1683.4 628.8L1687.7 628.8L1687.7 627.3L1691.4 627.3L1691.4 630.2L1696.4 630.2L1696.4 631.7L1700.1 631.7L1700.1 644.7L1703.7 644.7L1703.7 639.7L1705.9 639.7L1705.9 626.6L1709.5 626.6L1709.5 623.0L1712.4 623.0L1712.4 630.2L1716.8 630.2L1716.8 621.5L1720.4 621.5L1720.4 624.4L1723.3 624.4L1723.3 619.3L1729.1 619.3L1729.1 616.4L1732.7 616.4L1732.7 625.9L1735.6 625.9L1735.6 615.7L1737.1 615.7L1737.1 608.4L1741.4 608.4L1741.4 628.8L1743.6 628.8L1743.6 589.6L1746.5 589.6L1746.5 625.1L1750.9 625.1L1750.9 626.6L1754.5 626.6L1754.5 628.0L1757.4 628.0L1757.4 630.2L1761.8 630.2L1761.8 625.1L1764.7 625.1L1764.7 633.1L1769.0 633.1L1769.0 636.7L1773.4 636.7L1773.4 620.8L1776.3 620.8L1776.3 633.1L1781.4 633.1L1781.4 628.8L1785.0 628.8L1785.0 643.3L1790.8 643.3L1790.8 649.1L1795.2 649.1L1795.2 639.7L1798.8 639.7L1798.8 649.1L1801.0 649.1L1801.0 657.8L1805.3 657.8L1805.3 645.5L1809.7 645.5L1809.7 649.8L1814.0 649.8L1814.0 653.4L1817.0 653.4L1817.0 652.0L1820.6 652.0L1820.6 654.9L1824.2 654.9L1824.2 653.4L1828.0 653.4L1828.0 654.2L1829.5 654.2L1829.5 660.2L1832.5 660.2L1832.5 664.7L1834.7 664.7L1834.7 670.7L1839.2 670.7L1839.2 655.7L1843.0 655.7L1843.0 664.7L1846.7 664.7L1846.7 670.7L1848.9 670.7L1848.9 626.6L1852.7 626.6L1852.7 670.7L1854.2 670.7L1854.2 680.4L1856.4 680.4L1856.4 670.7L1859.4 670.7L1859.4 672.2L1862.4 672.2L1862.4 668.4L1866.1 668.4L1866.1 593.7L1869.9 593.7L1869.9 659.5L1874.4 659.5L1874.4 658.0L1878.1 658.0L1878.1 659.5L1880.3 659.5L1880.3 658.0L1884.1 658.0L1884.1 663.9L1887.1 663.9L1887.1 660.2L1890.8 660.2L1890.8 662.5L1893.8 662.5L1893.8 667.7L1896.1 667.7L1896.1 672.2L1897.5 672.2L1897.5 654.2L1901.3 654.2L1901.3 692.7ZM1908.0 692.7L1908.0 670.7L1910.3 670.7L1910.3 666.2L1914.0 666.2L1914.0 660.2L1918.5 660.2L1918.5 656.5L1922.2 656.5L1922.2 660.2L1926.0 660.2L1926.0 678.2L1929.0 678.2L1929.0 658.0L1932.7 658.0L1932.7 659.5L1934.9 659.5L1934.9 656.5L1938.7 656.5L1938.7 666.2L1940.9 666.2L1940.9 678.2L1943.2 678.2L1943.2 663.9L1947.7 663.9L1947.7 664.7L1952.1 664.7L1952.1 667.7L1955.1 667.7L1955.1 671.4L1956.6 671.4L1956.6 663.9L1959.6 663.9L1959.6 649.7L1963.4 649.7L1963.4 663.2L1970.1 663.2L1970.1 652.0L1973.8 652.0L1973.8 662.5L1976.8 662.5L1976.8 671.4L1978.3 671.4L1978.3 656.5L1982.1 656.5L1982.1 660.2L1986.5 660.2L1986.5 674.4L1988.8 674.4L1988.8 670.7L1992.5 670.7L1992.5 671.4L1995.5 671.4L1995.5 668.4L1998.5 668.4L1998.5 666.2L2001.5 666.2L2001.5 662.5L2012.0 662.5L2012.0 658.0L2022.4 658.0L2022.4 654.2L2024.7 654.2L2024.7 649.7L2028.4 649.7L2028.4 616.1L2032.2 616.1L2032.2 647.5L2036.6 647.5L2036.6 645.3L2040.4 645.3L2040.4 637.0L2044.9 637.0L2044.9 628.8L2049.4 628.8L2049.4 633.3L2053.1 633.3L2053.1 622.8L2057.6 622.8L2057.6 625.1L2061.3 625.1L2061.3 634.8L2065.8 634.8L2065.8 631.0L2068.1 631.0L2068.1 622.8L2071.8 622.8L2071.8 634.8L2074.8 634.8L2074.8 637.0L2080.8 637.0L2080.8 635.5L2085.3 635.5L2085.3 631.8L2087.5 631.8L2087.5 628.8L2092.7 628.8L2092.7 626.6L2097.2 626.6L2097.2 620.6L2101.0 620.6L2101.0 631.0L2104.7 631.0L2104.7 635.5L2107.7 635.5L2107.7 641.5L2111.4 641.5L2111.4 632.5L2115.2 632.5L2115.2 631.0L2118.2 631.0L2118.2 634.0L2121.1 634.0L2121.1 637.8L2122.6 637.8L2122.6 653.5L2124.9 653.5L2124.9 641.5L2126.4 641.5L2126.4 618.3L2129.4 618.3L2129.4 622.8L2133.0 622.8L2133.0 692.7Z" fill="#FE2040"/><rect x="1229.6" y="119.1" width="905.4" height="670.9" fill="none" stroke="#0a0c30" stroke-width="2.2"/>
<text x="122.3" y="98.0" font-size="33.5" text-anchor="start">chr17:1-12,462,014</text>
<text x="1230.0" y="98.0" font-size="33.5" text-anchor="start">chr17:74,964,204-81,195,210</text>
<path d="M923.0 106.6H1029.0M923.0 98.8V112.4M1029.0 98.8V112.4" stroke="#000" stroke-width="2.2" fill="none"/>
<text x="931.5" y="94.2" font-size="33.5" text-anchor="start">1 Mb</text>
<path d="M1973.4 104.0H2134.3M1973.4 95.2V110.0M2134.3 95.2V110.0" stroke="#000" stroke-width="2.2" fill="none"/>
<text x="2018.0" y="92.8" font-size="33.5" text-anchor="start">1 Mb</text>
<text x="129.5" y="160.7" font-size="33.5" text-anchor="start">0-4</text>
<text x="129.5" y="297.5" font-size="33.5" text-anchor="start">0-4</text>
<text x="129.5" y="444.4" font-size="33.5" text-anchor="start">0-2</text>
<text x="129.5" y="592.0" font-size="33.5" text-anchor="start">0-2</text>
<text x="1018.5" y="154.2" font-size="33.5" text-anchor="end">-DSB</text>
<text x="1018.5" y="296.6" font-size="33.5" text-anchor="end">+DSB</text>
<text x="1018.5" y="441.8" font-size="33.5" text-anchor="end">-DSB</text>
<text x="1018.5" y="580.9" font-size="33.5" text-anchor="end">+DSB</text>
<text x="1235.8" y="152.4" font-size="33.5" text-anchor="start">0-11</text>
<text x="1235.8" y="289.6" font-size="33.5" text-anchor="start">0-11</text>
<text x="1235.8" y="435.3" font-size="33.5" text-anchor="start">0-5</text>
<text x="1235.8" y="582.2" font-size="33.5" text-anchor="start">0-5</text>
<text x="2123.5" y="158.1" font-size="33.5" text-anchor="end">-DSB</text>
<text x="2123.5" y="298.0" font-size="33.5" text-anchor="end">+DSB</text>
<text x="2123.5" y="444.4" font-size="33.5" text-anchor="end">-DSB</text>
<text x="2123.5" y="584.3" font-size="33.5" text-anchor="end">+DSB</text>
<text transform="translate(90.5 265.0) rotate(-90)" font-size="33.5" text-anchor="middle"><tspan font-family="DejaVu Serif" font-weight="bold" font-style="italic">&#947;</tspan>H2AX</text>
<text transform="translate(90.5 558.0) rotate(-90)" font-size="33.5" text-anchor="middle">BrdU</text>
<text transform="translate(1200.5 265.0) rotate(-90)" font-size="33.5" text-anchor="middle"><tspan font-family="DejaVu Serif" font-weight="bold" font-style="italic">&#947;</tspan>H2AX</text>
<text transform="translate(1200.5 558.0) rotate(-90)" font-size="33.5" text-anchor="middle">BrdU</text>
<path d="M112.3 160.7V370M112.3 460V669.2M1220.2 155V364M1220.2 453.6V663.5" stroke="#000" stroke-width="2.4"/>
<text x="-2.0" y="773.0" font-size="33.5" text-anchor="start">D comp</text>
<text x="1106.0" y="776.4" font-size="33.5" text-anchor="start">D comp</text>
<rect x="154.7" y="754.1" width="49.7" height="21.5" fill="#EBA82C"/>
<rect x="375.6" y="754.1" width="421.8" height="21.5" fill="#EBA82C"/>
<rect x="1334.9" y="756.8" width="94.1" height="20.9" fill="#EBA82C"/>
<rect x="1789.1" y="757.3" width="342.4" height="20.4" fill="#EBA82C"/>
<path d="M565.9 703.2V722.8M1985.7 708.4V728" stroke="#2600FF" stroke-width="2.2"/>
<path d="M567.1 802.3L578.8 830.2L567.1 825.2L555.3 830.2Z" fill="#000"/>
<text x="584.4" y="827.5" font-size="33.5" text-anchor="start">DSB</text>
<path d="M1990.0 802.3L2001.7 830.2L1990.0 825.2L1978.2 830.2Z" fill="#000"/>
<text x="2007.4" y="827.5" font-size="33.5" text-anchor="start">DSB</text>
<text x="415.5" y="969.5" font-size="33.5" text-anchor="middle"><tspan font-family="DejaVu Serif" font-weight="bold" font-style="italic">&#947;</tspan>H2AX in D comp</text>
<text x="421.5" y="1010.0" font-size="33.5" text-anchor="middle">after DSB induction</text>
<text x="418.0" y="1072.6" font-size="33.5" text-anchor="middle"><tspan font-style="italic">p</tspan>=3.551e-06</text>
<path d="M285.7 1084.1H555.6M285.7 1162.4H436.1M430.5 1349H565.5" stroke="#000" stroke-width="2.2"/>
<text x="361.6" y="1150.0" font-size="33.5" text-anchor="middle"><tspan font-style="italic">p</tspan>=0.0203</text>
<text x="496.2" y="1334.2" font-size="33.5" text-anchor="middle"><tspan font-style="italic">p</tspan>=0.0078</text>
<path d="M203.4 1154.4V1768.6H641.1" stroke="#000" stroke-width="2.2" fill="none"/>
<path d="M198 1304.2H203.4" stroke="#000" stroke-width="2.2"/>
<text x="169.5" y="1315.7" font-size="33.5" text-anchor="start">1</text>
<path d="M198 1499.6H203.4" stroke="#000" stroke-width="2.2"/>
<text x="147.5" y="1511.1" font-size="33.5" text-anchor="start">0.5</text>
<path d="M198 1695.0H203.4" stroke="#000" stroke-width="2.2"/>
<text x="170.8" y="1706.5" font-size="33.5" text-anchor="start">0</text>
<path d="M286.8 1768.6V1774" stroke="#000" stroke-width="2.2"/>
<path d="M425.6 1768.6V1774" stroke="#000" stroke-width="2.2"/>
<path d="M565.0 1768.6V1774" stroke="#000" stroke-width="2.2"/>
<text x="286.0" y="1805.8" font-size="33.5" text-anchor="middle">AsiSI</text>
<text x="286.5" y="1846.5" font-size="33.5" text-anchor="middle">D comp</text>
<text x="426.0" y="1805.8" font-size="33.5" text-anchor="middle">non-AsiSI</text>
<text x="427.0" y="1846.5" font-size="33.5" text-anchor="middle">D comp</text>
<text x="573.0" y="1805.8" font-size="33.5" text-anchor="middle">Shuffle</text>
<text x="573.5" y="1846.5" font-size="33.5" text-anchor="middle">ctrl</text>
<text transform="translate(131.7 1451.2) rotate(-90)" font-size="33.5" text-anchor="middle"><tspan font-family="DejaVu Serif" font-weight="bold" font-style="italic">&#947;</tspan>H2AX log<tspan font-size="22.5" dy="7.6">2</tspan><tspan dy="-7.6"> fold change</tspan></text>
<path d="M278.3 1181.3L278.2 1186.6L278.0 1193.4L277.8 1201.7L277.5 1210.8L277.3 1220.6L276.9 1230.7L276.6 1240.7L276.2 1250.4L275.7 1260.1L275.2 1270.4L274.7 1280.9L274.1 1291.6L273.4 1302.2L272.8 1312.4L272.2 1322.0L271.6 1330.9L271.0 1338.9L270.4 1346.2L269.8 1353.0L269.2 1359.4L268.6 1365.6L268.0 1371.7L267.4 1378.0L266.8 1384.5L266.2 1391.3L265.6 1398.2L265.0 1405.1L264.4 1412.1L263.8 1418.9L263.3 1425.6L262.8 1431.9L262.3 1438.0L261.8 1443.7L261.4 1449.0L261.0 1454.1L260.6 1459.0L260.2 1463.8L260.0 1468.5L259.7 1473.4L259.6 1478.3L259.5 1483.3L259.5 1488.4L259.5 1493.4L259.6 1498.4L259.7 1503.4L260.0 1508.5L260.4 1513.5L260.9 1518.5L261.6 1523.5L262.5 1528.5L263.6 1533.6L264.7 1538.6L265.9 1543.6L267.0 1548.6L268.1 1553.7L269.0 1558.7L269.8 1563.8L270.6 1568.9L271.3 1574.1L272.0 1579.3L272.6 1584.4L273.2 1589.4L273.8 1594.3L274.3 1599.0L274.8 1603.7L275.3 1608.6L275.8 1613.5L276.2 1618.3L276.6 1622.7L277.0 1626.6L277.3 1630.0L277.5 1632.5L295.5 1632.5L295.8 1630.0L296.2 1626.6L296.6 1622.7L297.1 1618.3L297.7 1613.5L298.3 1608.6L298.9 1603.7L299.5 1599.0L300.2 1594.3L300.9 1589.4L301.6 1584.4L302.4 1579.3L303.2 1574.1L304.1 1568.9L304.9 1563.8L305.7 1558.7L306.5 1553.7L307.4 1548.6L308.4 1543.6L309.3 1538.6L310.2 1533.6L311.0 1528.5L311.8 1523.5L312.4 1518.5L312.9 1513.5L313.4 1508.5L313.8 1503.4L314.1 1498.4L314.4 1493.4L314.5 1488.4L314.6 1483.3L314.5 1478.3L314.3 1473.4L313.9 1468.5L313.5 1463.8L312.9 1459.0L312.3 1454.1L311.7 1449.0L311.1 1443.7L310.5 1438.0L309.9 1431.9L309.4 1425.6L308.7 1418.9L308.1 1412.1L307.5 1405.1L306.9 1398.2L306.3 1391.3L305.7 1384.5L305.1 1378.0L304.5 1371.7L303.9 1365.6L303.4 1359.4L302.8 1353.0L302.2 1346.2L301.6 1338.9L301.1 1330.9L300.6 1322.0L300.0 1312.4L299.5 1302.2L298.9 1291.6L298.4 1280.9L297.9 1270.4L297.5 1260.1L297.1 1250.4L296.8 1240.7L296.5 1230.7L296.3 1220.6L296.1 1210.8L295.9 1201.7L295.7 1193.4L295.6 1186.6L295.5 1181.3Z" fill="#808080" fill-opacity="1.0" stroke="#000" stroke-width="2" stroke-linejoin="round"/>
<path d="M271.3 1347.0H301.3" stroke="#000" stroke-width="2" stroke-dasharray="2 6"/><path d="M262.8 1444.8H310.2" stroke="#000" stroke-width="2" stroke-dasharray="8 6"/><path d="M261.9 1518.5H311.4" stroke="#000" stroke-width="2" stroke-dasharray="2 6"/>
<circle cx="286.6" cy="1181.3" r="3.6" fill="#3a3a3a" fill-opacity="0.7" stroke="#222" stroke-opacity="0.7" stroke-width="0.8"/><circle cx="286.6" cy="1254.5" r="3.6" fill="#3a3a3a" fill-opacity="0.7" stroke="#222" stroke-opacity="0.7" stroke-width="0.8"/><circle cx="286.6" cy="1341.0" r="3.6" fill="#3a3a3a" fill-opacity="0.7" stroke="#222" stroke-opacity="0.7" stroke-width="0.8"/><circle cx="286.6" cy="1353.9" r="3.6" fill="#3a3a3a" fill-opacity="0.7" stroke="#222" stroke-opacity="0.7" stroke-width="0.8"/><circle cx="286.6" cy="1429.5" r="3.6" fill="#3a3a3a" fill-opacity="0.7" stroke="#222" stroke-opacity="0.7" stroke-width="0.8"/><circle cx="286.6" cy="1462.2" r="3.6" fill="#3a3a3a" fill-opacity="0.7" stroke="#222" stroke-opacity="0.7" stroke-width="0.8"/><circle cx="286.6" cy="1493.0" r="3.6" fill="#3a3a3a" fill-opacity="0.7" stroke="#222" stroke-opacity="0.7" stroke-width="0.8"/><circle cx="286.6" cy="1499.8" r="3.6" fill="#3a3a3a" fill-opacity="0.7" stroke="#222" stroke-opacity="0.7" stroke-width="0.8"/><circle cx="286.6" cy="1521.2" r="3.6" fill="#3a3a3a" fill-opacity="0.7" stroke="#222" stroke-opacity="0.7" stroke-width="0.8"/><circle cx="286.6" cy="1525.2" r="3.6" fill="#3a3a3a" fill-opacity="0.7" stroke="#222" stroke-opacity="0.7" stroke-width="0.8"/><circle cx="286.6" cy="1632.5" r="3.6" fill="#3a3a3a" fill-opacity="0.7" stroke="#222" stroke-opacity="0.7" stroke-width="0.8"/>
<path d="M412.8 1385.2L412.7 1388.3L412.5 1392.3L412.2 1397.1L412.0 1402.4L411.7 1408.2L411.5 1414.1L411.3 1420.1L411.1 1426.0L411.0 1432.1L410.9 1438.6L410.9 1445.4L410.8 1452.3L410.8 1459.2L410.8 1465.7L410.8 1471.7L410.7 1477.1L410.6 1481.7L410.6 1485.9L410.6 1489.5L410.5 1492.9L410.5 1496.0L410.4 1499.1L410.2 1502.1L409.9 1505.2L409.5 1508.3L409.1 1511.3L408.7 1514.1L408.1 1516.9L407.5 1519.6L406.9 1522.4L406.3 1525.2L405.6 1528.2L404.9 1531.3L404.1 1534.5L403.2 1537.7L402.3 1541.0L401.4 1544.3L400.5 1547.5L399.6 1550.7L398.8 1553.7L398.0 1556.6L397.2 1559.5L396.5 1562.3L395.7 1565.1L395.0 1567.8L394.3 1570.5L393.6 1573.1L392.9 1575.8L392.2 1578.4L391.5 1580.9L390.8 1583.3L390.1 1585.8L389.5 1588.2L388.9 1590.8L388.3 1593.4L387.8 1596.2L387.3 1599.2L386.9 1602.3L386.4 1605.6L386.0 1608.9L385.7 1612.2L385.4 1615.5L385.3 1618.7L385.2 1621.8L385.3 1624.7L385.4 1627.6L385.7 1630.4L386.1 1633.2L386.5 1635.9L386.9 1638.6L387.4 1641.2L387.8 1643.9L388.3 1646.7L388.8 1649.6L389.4 1652.6L390.1 1655.5L390.7 1658.2L391.2 1660.7L391.7 1662.7L392.0 1664.3L460.1 1664.3L460.4 1662.7L460.7 1660.7L461.2 1658.2L461.6 1655.5L462.1 1652.6L462.6 1649.6L463.1 1646.7L463.5 1643.9L463.9 1641.2L464.3 1638.6L464.7 1635.9L465.1 1633.2L465.5 1630.4L465.7 1627.6L465.9 1624.7L466.0 1621.8L465.9 1618.7L465.8 1615.5L465.5 1612.2L465.2 1608.9L464.8 1605.6L464.4 1602.3L464.0 1599.2L463.5 1596.2L463.0 1593.4L462.4 1590.8L461.8 1588.2L461.1 1585.8L460.4 1583.3L459.7 1580.9L459.1 1578.4L458.4 1575.8L457.8 1573.1L457.2 1570.5L456.6 1567.8L456.0 1565.1L455.3 1562.3L454.7 1559.5L454.0 1556.6L453.3 1553.7L452.5 1550.7L451.7 1547.5L450.8 1544.3L449.9 1541.0L448.9 1537.7L448.1 1534.5L447.2 1531.3L446.5 1528.2L445.8 1525.2L445.2 1522.4L444.6 1519.6L444.0 1516.9L443.5 1514.1L443.0 1511.3L442.6 1508.3L442.2 1505.2L441.9 1502.1L441.6 1499.1L441.3 1496.0L441.1 1492.9L440.9 1489.5L440.8 1485.9L440.6 1481.7L440.5 1477.1L440.4 1471.7L440.3 1465.7L440.3 1459.2L440.2 1452.3L440.2 1445.4L440.1 1438.6L440.1 1432.1L440.0 1426.0L439.9 1420.1L439.7 1414.1L439.5 1408.2L439.4 1402.4L439.2 1397.1L439.0 1392.3L438.9 1388.3L438.8 1385.2Z" fill="#DCDCDC" fill-opacity="1.0" stroke="#A9A9A9" stroke-width="1.6" stroke-linejoin="round"/>
<path d="M410.9 1505.2H441.2" stroke="#BDBDBD" stroke-width="2" stroke-dasharray="2 6"/><path d="M393.9 1575.8H457.4" stroke="#BDBDBD" stroke-width="2" stroke-dasharray="8 6"/><path d="M386.2 1620.9H465.0" stroke="#BDBDBD" stroke-width="2" stroke-dasharray="2 6"/>
<circle cx="425.7" cy="1385.2" r="3.6" fill="#C4C4C4" fill-opacity="0.8" stroke="#B0B0B0" stroke-opacity="0.8" stroke-width="0.8"/><circle cx="425.7" cy="1455.8" r="3.6" fill="#C4C4C4" fill-opacity="0.8" stroke="#B0B0B0" stroke-opacity="0.8" stroke-width="0.8"/><circle cx="425.7" cy="1558.8" r="3.6" fill="#C4C4C4" fill-opacity="0.8" stroke="#B0B0B0" stroke-opacity="0.8" stroke-width="0.8"/><circle cx="425.7" cy="1566.5" r="3.6" fill="#C4C4C4" fill-opacity="0.8" stroke="#B0B0B0" stroke-opacity="0.8" stroke-width="0.8"/><circle cx="425.7" cy="1613.3" r="3.6" fill="#C4C4C4" fill-opacity="0.8" stroke="#B0B0B0" stroke-opacity="0.8" stroke-width="0.8"/><circle cx="425.7" cy="1642.2" r="3.6" fill="#C4C4C4" fill-opacity="0.8" stroke="#B0B0B0" stroke-opacity="0.8" stroke-width="0.8"/><circle cx="425.7" cy="1649.0" r="3.6" fill="#C4C4C4" fill-opacity="0.8" stroke="#B0B0B0" stroke-opacity="0.8" stroke-width="0.8"/><circle cx="425.7" cy="1664.3" r="3.6" fill="#C4C4C4" fill-opacity="0.8" stroke="#B0B0B0" stroke-opacity="0.8" stroke-width="0.8"/>
<path d="M558.0 1440.2L558.3 1442.2L558.6 1444.8L559.1 1447.8L559.6 1451.3L560.1 1454.9L560.6 1458.6L561.0 1462.3L561.4 1465.7L561.7 1469.0L562.0 1472.3L562.3 1475.7L562.6 1479.0L562.8 1482.4L563.0 1485.8L563.1 1489.1L563.2 1492.5L563.2 1495.9L563.2 1499.2L563.2 1502.6L563.1 1505.9L562.9 1509.3L562.7 1512.6L562.4 1516.0L562.0 1519.3L561.5 1522.6L561.0 1526.0L560.3 1529.3L559.6 1532.6L558.9 1536.0L558.1 1539.3L557.3 1542.7L556.6 1546.0L555.9 1549.4L555.2 1552.7L554.5 1556.1L553.7 1559.5L553.0 1562.8L552.2 1566.2L551.3 1569.5L550.4 1572.9L549.4 1576.2L548.4 1579.6L547.3 1582.9L546.2 1586.3L545.1 1589.6L543.9 1592.9L542.7 1596.3L541.4 1599.6L540.1 1602.9L538.7 1606.3L537.3 1609.6L535.8 1613.0L534.3 1616.3L532.8 1619.7L531.3 1623.0L529.8 1626.4L528.3 1629.8L526.7 1633.1L525.1 1636.5L523.5 1639.8L521.9 1643.2L520.3 1646.5L518.8 1649.9L517.3 1653.2L515.8 1656.6L514.3 1660.1L512.8 1663.6L511.4 1667.2L510.0 1670.6L508.7 1673.9L507.6 1677.1L506.6 1680.0L505.8 1682.7L505.0 1685.1L504.4 1687.4L503.9 1689.5L503.5 1691.6L503.2 1693.6L503.1 1695.7L503.0 1697.9L503.0 1700.1L503.2 1702.4L503.4 1704.6L503.7 1706.8L504.2 1709.0L504.8 1711.2L505.6 1713.5L506.6 1715.7L507.9 1718.0L509.4 1720.4L511.3 1722.8L513.2 1725.3L515.1 1727.6L517.0 1729.8L518.6 1731.8L520.0 1733.6L521.1 1735.1L522.0 1736.5L522.8 1737.7L523.5 1738.7L524.1 1739.6L524.6 1740.4L525.0 1741.1L525.4 1741.6L603.9 1741.6L604.3 1741.1L604.7 1740.4L605.1 1739.6L605.7 1738.7L606.4 1737.7L607.2 1736.5L608.2 1735.1L609.3 1733.6L610.7 1731.8L612.5 1729.8L614.5 1727.6L616.6 1725.3L618.6 1722.8L620.6 1720.4L622.3 1718.0L623.6 1715.7L624.6 1713.5L625.4 1711.2L626.0 1709.0L626.5 1706.8L626.8 1704.6L627.0 1702.4L627.1 1700.1L627.1 1697.9L627.0 1695.7L626.9 1693.6L626.6 1691.6L626.2 1689.5L625.7 1687.4L625.1 1685.1L624.4 1682.7L623.6 1680.0L622.6 1677.1L621.5 1673.9L620.2 1670.6L618.8 1667.2L617.3 1663.6L615.8 1660.1L614.3 1656.6L612.9 1653.2L611.5 1649.9L610.1 1646.5L608.6 1643.2L607.2 1639.8L605.7 1636.5L604.2 1633.1L602.8 1629.8L601.3 1626.4L599.8 1623.0L598.3 1619.7L596.8 1616.3L595.3 1613.0L593.9 1609.6L592.4 1606.3L591.0 1602.9L589.6 1599.6L588.3 1596.3L586.9 1592.9L585.6 1589.6L584.4 1586.3L583.1 1582.9L582.0 1579.6L580.8 1576.2L579.8 1572.9L578.8 1569.5L578.0 1566.2L577.2 1562.8L576.4 1559.5L575.7 1556.1L575.0 1552.7L574.3 1549.4L573.6 1546.0L572.9 1542.7L572.2 1539.3L571.5 1536.0L570.8 1532.6L570.2 1529.3L569.6 1526.0L569.0 1522.6L568.6 1519.3L568.2 1516.0L567.9 1512.6L567.7 1509.3L567.5 1505.9L567.4 1502.6L567.3 1499.2L567.3 1495.9L567.3 1492.5L567.4 1489.1L567.5 1485.8L567.7 1482.4L567.9 1479.0L568.2 1475.7L568.5 1472.3L568.8 1469.0L569.1 1465.7L569.4 1462.3L569.8 1458.6L570.3 1454.9L570.7 1451.3L571.1 1447.8L571.5 1444.8L571.9 1442.2L572.1 1440.2Z" fill="#F07A80" fill-opacity="1.0" stroke="#E82420" stroke-width="2" stroke-linejoin="round"/>
<path d="M530.0 1628.2H601.1" stroke="#F02828" stroke-width="2" stroke-dasharray="2 6"/><path d="M510.7 1671.4H619.5" stroke="#F02828" stroke-width="2" stroke-dasharray="8 6"/><path d="M504.4 1704.6H625.8" stroke="#F02828" stroke-width="2" stroke-dasharray="2 6"/>
<circle cx="565.2" cy="1440.2" r="3.6" fill="#FF2A2A" fill-opacity="0.6" stroke="#E82020" stroke-opacity="0.6" stroke-width="0.8"/><circle cx="565.2" cy="1560.4" r="3.6" fill="#FF2A2A" fill-opacity="0.6" stroke="#E82020" stroke-opacity="0.6" stroke-width="0.8"/><circle cx="565.2" cy="1597.9" r="3.6" fill="#FF2A2A" fill-opacity="0.6" stroke="#E82020" stroke-opacity="0.6" stroke-width="0.8"/><circle cx="565.2" cy="1627.3" r="3.6" fill="#FF2A2A" fill-opacity="0.6" stroke="#E82020" stroke-opacity="0.6" stroke-width="0.8"/><circle cx="565.2" cy="1635.4" r="3.6" fill="#FF2A2A" fill-opacity="0.6" stroke="#E82020" stroke-opacity="0.6" stroke-width="0.8"/><circle cx="565.2" cy="1653.2" r="3.6" fill="#FF2A2A" fill-opacity="0.6" stroke="#E82020" stroke-opacity="0.6" stroke-width="0.8"/><circle cx="565.2" cy="1658.6" r="3.6" fill="#FF2A2A" fill-opacity="0.6" stroke="#E82020" stroke-opacity="0.6" stroke-width="0.8"/><circle cx="565.2" cy="1669.3" r="3.6" fill="#FF2A2A" fill-opacity="0.6" stroke="#E82020" stroke-opacity="0.6" stroke-width="0.8"/><circle cx="565.2" cy="1680.9" r="3.6" fill="#FF2A2A" fill-opacity="0.6" stroke="#E82020" stroke-opacity="0.6" stroke-width="0.8"/><circle cx="565.2" cy="1689.8" r="3.6" fill="#FF2A2A" fill-opacity="0.6" stroke="#E82020" stroke-opacity="0.6" stroke-width="0.8"/><circle cx="565.2" cy="1694.3" r="3.6" fill="#FF2A2A" fill-opacity="0.6" stroke="#E82020" stroke-opacity="0.6" stroke-width="0.8"/><circle cx="565.2" cy="1713.9" r="3.6" fill="#FF2A2A" fill-opacity="0.6" stroke="#E82020" stroke-opacity="0.6" stroke-width="0.8"/><circle cx="565.2" cy="1717.5" r="3.6" fill="#FF2A2A" fill-opacity="0.6" stroke="#E82020" stroke-opacity="0.6" stroke-width="0.8"/><circle cx="565.2" cy="1722.9" r="3.6" fill="#FF2A2A" fill-opacity="0.6" stroke="#E82020" stroke-opacity="0.6" stroke-width="0.8"/><circle cx="565.2" cy="1741.6" r="3.6" fill="#FF2A2A" fill-opacity="0.6" stroke="#E82020" stroke-opacity="0.6" stroke-width="0.8"/>
<path d="M198.5 1695.0H642" stroke="#000" stroke-width="2" stroke-dasharray="8.7 5.8"/>
</svg></body></html>
